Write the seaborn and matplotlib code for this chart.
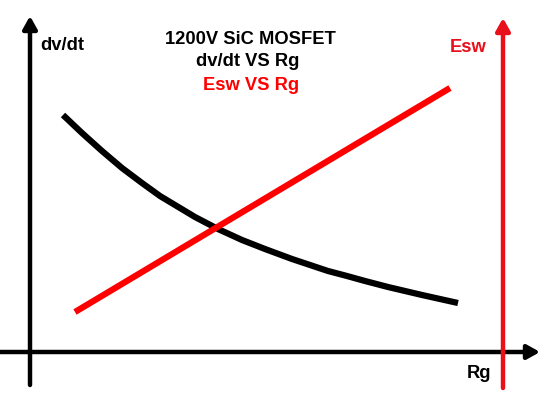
import matplotlib
matplotlib.use("Agg")
import matplotlib.pyplot as plt
import seaborn as sns

# schematic values (arbitrary units)
rg_dvdt = [3.3, 5.2, 7.2, 9.2, 11.2, 13.0, 14.5, 16.5, 18.8, 21.2, 23.5,
           26.2, 28.0, 29.8, 31.7, 33.5, 35.8, 39.2, 42.8]
dvdt = [23.7, 21.9, 20.1, 18.4, 16.9, 15.6, 14.7, 13.5, 12.3, 11.2, 10.3,
        9.3, 8.7, 8.1, 7.6, 7.1, 6.5, 5.7, 4.9]
rg_esw = [4.5, 42.0]
esw = [4.0, 26.4]

title_lines = ["1200V SiC MOSFET", "dv/dt VS Rg", "Esw VS Rg"]


def axis_arrow(ax, start, end, color):
    ax.annotate("", xy=end, xytext=start,
                arrowprops=dict(arrowstyle="-|>,head_length=0.75,head_width=0.42",
                                mutation_scale=10, lw=3.2, color=color,
                                shrinkA=0, shrinkB=0))


def main():
    sns.set_style("white")
    plt.rcParams["font.family"] = ["Liberation Sans", "DejaVu Sans"]

    fig = plt.figure(figsize=(5.52, 3.96), dpi=100)
    ax = fig.add_axes([0, 0, 1, 1])
    ax.set_xlim(-3.0, 52.2)
    ax.set_ylim(-4.4, 35.2)
    ax.axis("off")

    # axes drawn as arrows
    axis_arrow(ax, (-3.0, 0), (51.0, 0), "black")
    axis_arrow(ax, (0, -3.3), (0, 33.6), "black")
    axis_arrow(ax, (47.3, -3.6), (47.3, 33.4), "#e8101a")

    sns.lineplot(x=rg_dvdt, y=dvdt, ax=ax, color="black", lw=4.5,
                 solid_joinstyle="round", solid_capstyle="butt")
    sns.lineplot(x=rg_esw, y=esw, ax=ax, color="#ff0000", lw=4.5,
                 solid_capstyle="butt")

    font = dict(fontsize=13.2, fontweight="bold")
    ax.text(1.0, 30.7, "dv/dt", ha="left", va="center", color="black", **font)
    ax.text(43.8, 30.4, "Esw", ha="center", va="center", color="#e8101a", **font)
    ax.text(44.9, -2.1, "Rg", ha="center", va="center", color="black", **font)

    ax.text(22.0, 31.2, title_lines[0], ha="center", va="center", color="black", **font)
    ax.text(21.8, 29.0, title_lines[1], ha="center", va="center", color="black", **font)
    ax.text(22.1, 26.7, title_lines[2], ha="center", va="center", color="#ff0000", **font)

    fig.savefig("out.png", dpi=100)


if __name__ == "__main__":
    main()
